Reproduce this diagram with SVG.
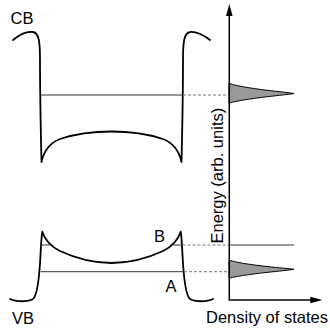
<svg xmlns="http://www.w3.org/2000/svg" width="330" height="330" viewBox="0 0 330 330">
  <style>
    .band { fill: none; stroke: #000; stroke-width: 1.8; stroke-linejoin: round; stroke-linecap: round; }
    .lvl { stroke: #333; stroke-width: 1; fill: none; }
    .dash { stroke: #777; stroke-width: 1; stroke-dasharray: 3 2; fill: none; }
    .peak { fill: #9a9a9a; stroke: #000; stroke-width: 1; }
    .axis { stroke: #000; stroke-width: 1.5; fill: none; }
    text { font-family: "Liberation Sans", Arial, Helvetica, sans-serif; font-size: 16.5px; fill: #000; }
  </style>
  <defs>
    <marker id="arrow" markerUnits="userSpaceOnUse" markerWidth="13" markerHeight="8" refX="6" refY="3.3" orient="auto">
      <path d="M0,0 L12,3.3 L0,6.6 Z" fill="#000"/>
    </marker>
  </defs>
  <rect width="330" height="330" fill="#fff"/>

  <g id="bands">
    <path id="cb" class="band" d="M13,40 C19,35 27,31 33,32 C39,33 40,42 40,60 C40,100 41,140 41.5,162 C44,150 50,143 60,139 C75,134 95,131.5 111.5,131.5 C128,131.5 148,134 163,139 C173,143 179,150 181.5,162 C182,140 183,100 183,60 C183,42 184,33 190,32 C195,31 204,35 210,40"/>
    <path id="vb" class="band" d="M10,299 C16,302 28,302 33,299 C38,295 39.5,275 40.5,255 C41,245 41.5,236 42.3,231.7 C45,240 50,246 60,251 C75,258 95,263 111.5,263 C128,263 148,258 163,251 C173,246 178,240 180.7,231.7 C181.5,236 182,245 182.5,255 C183.5,275 185,295 190,299 C195,302 207,302 213,299"/>
  </g>

  <g id="levels">
    <line class="lvl" x1="40.5" y1="95" x2="183" y2="95"/>
    <line class="dash" x1="183" y1="95" x2="229" y2="95"/>
    <line class="lvl" x1="41.5" y1="245" x2="50" y2="245"/>
    <line class="lvl" x1="173" y1="245" x2="182.5" y2="245"/>
    <line class="dash" x1="182.5" y1="245" x2="229" y2="245"/>
    <line class="lvl" x1="229" y1="245" x2="294" y2="245"/>
    <line class="lvl" x1="40.8" y1="271.7" x2="184" y2="271.7"/>
    <line class="dash" x1="184" y1="271.7" x2="229" y2="271.7"/>
  </g>

  <g id="dos">
    <path class="peak" d="M229,83.3 C233,85 245,87.5 265,90 C280,91.8 290,92.8 294,93.5 C290,94.2 280,95.2 265,97 C245,99.5 234,101.5 229,103.3 Z"/>
    <path class="peak" d="M229,260 C233,261.7 245,264 265,266.3 C280,268 290,268.7 294,269.3 C290,270 280,271 265,272.6 C245,275 234,276.7 229,278.3 Z"/>
  </g>

  <g id="axes">
    <line class="axis" x1="229.3" y1="300" x2="229.3" y2="10" marker-end="url(#arrow)"/>
    <line class="axis" x1="228.6" y1="300" x2="316.3" y2="300" marker-end="url(#arrow)"/>
  </g>

  <g id="labels">
    <text x="10.5" y="24">CB</text>
    <text x="12" y="324.3">VB</text>
    <text x="154" y="241.7">B</text>
    <text x="165.5" y="291.7">A</text>
    <text x="206" y="323.3">Density of states</text>
    <text transform="translate(223,243.5) rotate(-90)">Energy (arb. units)</text>
  </g>
</svg>
